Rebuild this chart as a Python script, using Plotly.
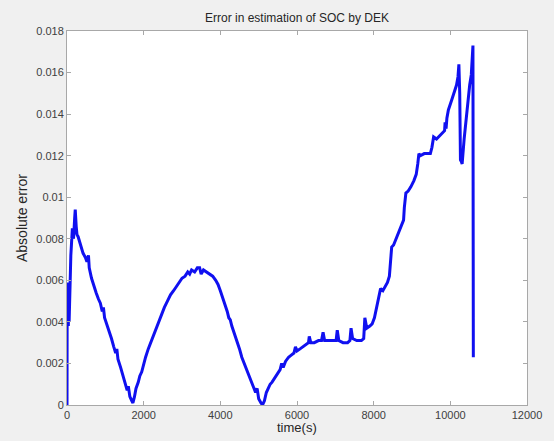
import plotly.graph_objects as go

# Absolute SOC estimation error of the DEK filter over time (10 samples per row)
time_s = [
    0, 5, 15, 25, 35, 45, 55, 70, 100, 140,
    170, 200, 215, 240, 260, 290, 320, 360, 420, 480,
    520, 560, 580, 640, 700, 760, 820, 870, 920, 950,
    980, 1040, 1100, 1160, 1220, 1270, 1300, 1330, 1400, 1460,
    1520, 1570, 1600, 1640, 1690, 1720, 1760, 1800, 1860, 1900,
    1950, 1990, 2050, 2120, 2180, 2250, 2300, 2340, 2400, 2470,
    2540, 2620, 2700, 2780, 2850, 2940, 3000, 3080, 3150, 3200,
    3250, 3330, 3400, 3460, 3500, 3560, 3640, 3720, 3800, 3880,
    3940, 4000, 4060, 4110, 4140, 4180, 4220, 4260, 4300, 4360,
    4430, 4500, 4560, 4620, 4680, 4740, 4800, 4860, 4920, 4960,
    5000, 5060, 5100, 5150, 5200, 5250, 5300, 5350, 5420, 5480,
    5560, 5600, 5640, 5700, 5780, 5850, 5920, 5960, 6000, 6080,
    6160, 6240, 6300, 6320, 6360, 6450, 6560, 6640, 6680, 6720,
    6820, 6940, 7020, 7050, 7090, 7200, 7320, 7380, 7410, 7450,
    7560, 7680, 7740, 7770, 7820, 7900, 7960, 8020, 8080, 8120,
    8180, 8240, 8300, 8360, 8410, 8440, 8470, 8520, 8580, 8640,
    8700, 8780, 8800, 8840, 8900, 8970, 9050, 9110, 9150, 9180,
    9222, 9320, 9400, 9479, 9520, 9564, 9640, 9735, 9850, 9863,
    9889, 9910, 9949, 10040, 10120, 10162, 10200, 10223, 10245, 10264,
    10290, 10308, 10360, 10418, 10505, 10547, 10590, 10600,
]
abs_error = [
    0.0, 0.0059, 0.0052, 0.0058, 0.0038, 0.0055, 0.0040, 0.0056, 0.0072, 0.0085,
    0.0080, 0.0090, 0.0094, 0.0086, 0.0082, 0.0081, 0.0079, 0.0076, 0.0073, 0.0071,
    0.0069, 0.0072, 0.0066, 0.0061, 0.0057, 0.0054, 0.0051, 0.0049, 0.0045, 0.0047,
    0.0042, 0.0039, 0.0035, 0.0032, 0.0028, 0.0025, 0.0027, 0.0022, 0.0018, 0.0014,
    0.0010, 0.0007, 0.0009, 0.0004, 0.0002, 0.0001, 0.0004, 0.0008, 0.0011, 0.0014,
    0.0016, 0.0019, 0.0023, 0.0027, 0.0030, 0.0033, 0.0035, 0.0038, 0.0041, 0.0044,
    0.0047, 0.0050, 0.0053, 0.0055, 0.0057, 0.0059, 0.0061, 0.0062, 0.0064, 0.0063,
    0.0065, 0.0064, 0.0066, 0.0066, 0.0063, 0.0065, 0.0064, 0.0063, 0.0062, 0.0060,
    0.0058, 0.0055, 0.0052, 0.0049, 0.0047, 0.0045, 0.0042, 0.0041, 0.0038, 0.0035,
    0.0031, 0.0027, 0.0023, 0.0020, 0.0017, 0.0014, 0.0011, 0.0009, 0.0006, 0.0008,
    0.0003, 0.0001, 0.0000, 0.0002, 0.0006, 0.0008, 0.0010, 0.0011, 0.0013, 0.0015,
    0.0017, 0.0020, 0.0018, 0.0021, 0.0023, 0.0024, 0.0025, 0.0028, 0.0026, 0.0027,
    0.0028, 0.0029, 0.0030, 0.0033, 0.0030, 0.0030, 0.0031, 0.0031, 0.0035, 0.0031,
    0.0031, 0.0031, 0.0031, 0.0036, 0.0031, 0.0030, 0.0030, 0.0031, 0.0037, 0.0032,
    0.0031, 0.0031, 0.0032, 0.0042, 0.0037, 0.0038, 0.0039, 0.0042, 0.0047, 0.0052,
    0.0056, 0.0055, 0.0057, 0.0059, 0.0062, 0.0070, 0.0076, 0.0077, 0.0080, 0.0082,
    0.0085, 0.0089, 0.0095, 0.0102, 0.0103, 0.0105, 0.0108, 0.0111, 0.0116, 0.0121,
    0.0120, 0.0121, 0.0121, 0.0121, 0.0124, 0.0129, 0.0128, 0.0130, 0.0132, 0.0136,
    0.0133, 0.0138, 0.0142, 0.0147, 0.0151, 0.0154, 0.0158, 0.0164, 0.0150, 0.0118,
    0.0117, 0.0116, 0.0128, 0.0140, 0.0154, 0.0159, 0.0173, 0.0023,
]
assert len(time_s) == len(abs_error)

x_ticks = [0, 2000, 4000, 6000, 8000, 10000, 12000]
x_tick_labels = ["0", "2000", "4000", "6000", "8000", "10000", "12000"]
y_ticks = [0, 0.002, 0.004, 0.006, 0.008, 0.01, 0.012, 0.014, 0.016, 0.018]
y_tick_labels = ["0", "0.002", "0.004", "0.006", "0.008", "0.01",
                 "0.012", "0.014", "0.016", "0.018"]

FONT = "Liberation Sans, Arial, Helvetica, sans-serif"
TICK_COLOR = "#404040"
AXIS_COLOR = "#a8a8a8"

fig = go.Figure()
fig.add_trace(go.Scatter(
    x=time_s, y=abs_error, mode="lines",
    line=dict(color="#1010f0", width=3),
    showlegend=False,
))

axis_common = dict(
    showline=True, linecolor=AXIS_COLOR, linewidth=1, mirror="ticks",
    ticks="inside", ticklen=4, tickcolor=AXIS_COLOR,
    showgrid=False, zeroline=False,
    tickfont=dict(family=FONT, size=11, color=TICK_COLOR),
)

fig.update_layout(
    width=554, height=441,
    margin=dict(l=67, r=20, t=31, b=36),
    paper_bgcolor="#f0f0f0", plot_bgcolor="white",
    title=dict(text="Error in estimation of SOC by DEK",
               x=0.5, xref="paper", y=1 - 18 / 441, yanchor="middle",
               font=dict(family=FONT, size=12, color="#262626")),
    xaxis=dict(range=[0, 12000], tickvals=x_ticks, ticktext=x_tick_labels,
               **axis_common),
    yaxis=dict(range=[0, 0.018], tickvals=y_ticks, ticktext=y_tick_labels,
               **axis_common),
    annotations=[
        dict(text="time(s)", xref="paper", yref="paper", x=0.5, y=0,
             yshift=-13, xanchor="center", yanchor="top", showarrow=False,
             font=dict(family=FONT, size=13, color="#262626")),
        dict(text="Absolute error", xref="paper", yref="paper", x=0, y=0.5,
             xshift=-45, xanchor="center", yanchor="middle", textangle=-90,
             showarrow=False,
             font=dict(family=FONT, size=14, color="#262626")),
    ],
)

fig.write_html("out.html")
